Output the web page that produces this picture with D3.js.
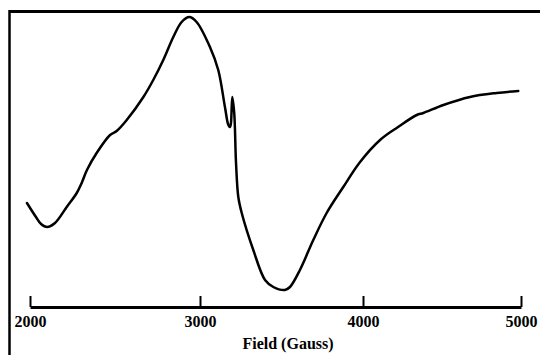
<!DOCTYPE html>
<html>
<head>
<meta charset="utf-8">
<script src="https://cdn.jsdelivr.net/npm/d3@7/dist/d3.min.js"></script>
<style>
  html, body { margin: 0; padding: 0; background: #fff; }
  svg { display: block; }
</style>
</head>
<body>
<svg id="chart" width="540" height="355"></svg>
<script>
// Field values (Gauss) and EPR derivative signal (arbitrary units)
const field = [1982, 2035, 2065, 2100, 2147, 2216, 2275, 2304, 2335, 2392, 2471, 2510, 2569, 2667, 2725, 2784, 2843, 2892, 2937, 2980, 3061, 3112, 3153, 3174, 3184, 3190, 3198, 3210, 3221, 3235, 3256, 3327, 3399, 3450, 3521, 3552, 3613, 3695, 3777, 3879, 3982, 4108, 4222, 4340, 4382, 4509, 4677, 4846, 4983];
const signal = [104, 90, 83, 80, 84, 100, 114, 124, 137, 154, 172, 176, 187, 210, 227, 247, 270, 285, 290, 285, 260, 237, 200, 182, 180, 184, 210, 194, 144, 110, 94, 57, 27, 20, 17, 20, 37, 67, 94, 120, 145, 167, 180, 192, 194, 202, 210, 214, 216];
const tickValues = [2000, 3000, 4000, 5000];
const xTitle = "Field (Gauss)";

const W = 540, H = 355;
const svg = d3.select("#chart");

const x = d3.scaleLinear()
  .domain(tickValues)
  .range([30, 200, 363, 521]);
const y = d3.scaleLinear().domain([0, 300]).range([307, 7]);

// frame: top and left borders
svg.append("line")
  .attr("x1", 9.5).attr("x2", W).attr("y1", 11.5).attr("y2", 11.5)
  .attr("stroke", "#000").attr("stroke-width", 3);
svg.append("line")
  .attr("x1", 9.5).attr("x2", 9.5).attr("y1", 10).attr("y2", H)
  .attr("stroke", "#000").attr("stroke-width", 2.5);

// x axis
const axis = d3.axisBottom(x)
  .tickValues(tickValues)
  .tickFormat(d3.format("d"))
  .tickSizeInner(-11)
  .tickSizeOuter(0)
  .tickPadding(9);

const gx = svg.append("g")
  .attr("transform", "translate(0,307)")
  .call(axis);
gx.select(".domain").attr("stroke", "#000").attr("stroke-width", 3);
gx.selectAll(".tick line").attr("stroke", "#000").attr("stroke-width", 2);
gx.selectAll(".tick text")
  .attr("fill", "#000")
  .style("font-family", "'Liberation Serif', 'Times New Roman', serif")
  .style("font-weight", "bold")
  .style("font-size", "16px");

svg.append("text")
  .attr("x", 288).attr("y", 349)
  .attr("text-anchor", "middle")
  .style("font-family", "'Liberation Serif', 'Times New Roman', serif")
  .style("font-weight", "bold")
  .style("font-size", "16px")
  .text(xTitle);

// curve
const pts = field.map((f, i) => [f, signal[i]]);
const line = d3.line()
  .x(d => x(d[0]))
  .y(d => y(d[1]))
  .curve(d3.curveCatmullRom.alpha(0.5));

svg.append("path")
  .datum(pts)
  .attr("d", line)
  .attr("fill", "none")
  .attr("stroke", "#000")
  .attr("stroke-width", 2.5)
  .attr("stroke-linejoin", "round")
  .attr("stroke-linecap", "round");
</script>
</body>
</html>
